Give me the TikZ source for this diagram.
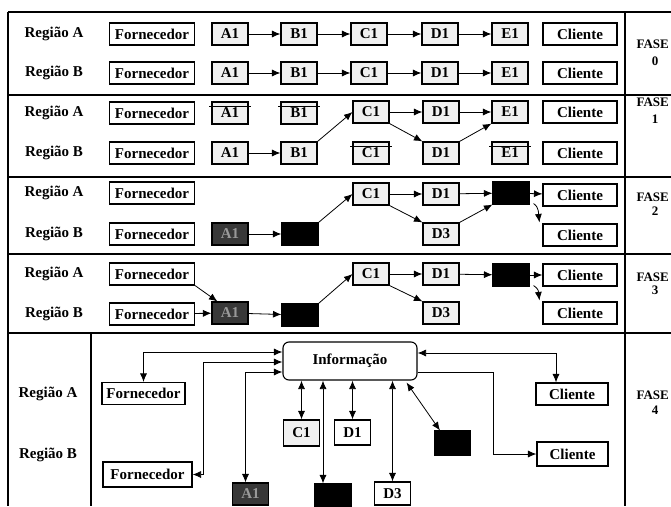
\documentclass[tikz,border=0pt]{standalone}
\usepackage{fontspec}
\setmainfont{Liberation Serif}
\usetikzlibrary{arrows.meta,calc}
\begin{document}
\begin{tikzpicture}[x=1pt,y=-1pt,
  box/.style={draw,line width=1.1pt,minimum height=22pt,inner sep=0pt,font=\fontsize{15}{15}\selectfont\bfseries},
  forn/.style={box,minimum width=85pt},
  cli/.style={box,minimum width=74pt},
  lbox/.style={box,minimum width=36pt,fill=black!6},
  dbox/.style={box,minimum width=36pt,fill=black!78,text=black!40},
  bbox/.style={box,minimum width=36pt,fill=black},
  lbl/.style={font=\fontsize{15}{15}\selectfont\bfseries},
  fase/.style={font=\fontsize{13}{13}\selectfont\bfseries,anchor=west},
  num/.style={font=\fontsize{13}{13}\selectfont\bfseries},
  arr/.style={-{Latex[length=8.5pt,width=7pt]},line width=0.8pt},
  dbl/.style={{Latex[length=8.5pt,width=7pt]}-{Latex[length=8.5pt,width=7pt]},line width=0.8pt},
  frame/.style={line width=1.2pt},
  strike/.style={line width=0.9pt},
]
\useasboundingbox (0,0) rectangle (671,506);
\fill[white] (0,0) rectangle (671,506);
% frame
\draw[frame] (8,12) -- (671,12);
\draw[frame] (8,12) -- (8,506);
\draw[frame] (625,12) -- (625,506);
\draw[frame] (8,95) -- (671,95);
\draw[frame] (8,177) -- (671,177);
\draw[frame] (8,254) -- (671,254);
\draw[frame] (8,333) -- (671,333);
\draw[frame] (91,333) -- (91,506);

% FASE labels
\node[fase] (f0) at (633,44) {FASE};
\node[num] (n0) at (655,61) {0};
\node[fase] (f1) at (633,102) {FASE};
\node[num] (n1) at (655,119) {1};
\node[fase] (f2) at (633,197) {FASE};
\node[num] (n2) at (655,211) {2};
\node[fase] (f3) at (633,277) {FASE};
\node[num] (n3) at (655,290) {3};
\node[fase] (f4) at (633,395) {FASE};
\node[num] (n4) at (655,410) {4};

% ===== Phase 0 =====
\node[lbl] (l0a) at (54,34) {Região A};
\node[lbl] (l0b) at (54,73) {Região B};
\node[forn] (fo0a) at (152,34) {Fornecedor};
\node[lbox] (a0a) at (230,34) {A1};
\node[lbox] (b0a) at (299,34) {B1};
\node[lbox] (c0a) at (369,34) {C1};
\node[lbox] (d0a) at (440,34) {D1};
\node[lbox] (e0a) at (510,34) {E1};
\node[cli] (k0a) at (580,34) {Cliente};
\node[forn] (fo0b) at (152,73) {Fornecedor};
\node[lbox] (a0b) at (230,73) {A1};
\node[lbox] (b0b) at (299,73) {B1};
\node[lbox] (c0b) at (369,73) {C1};
\node[lbox] (d0b) at (440,73) {D1};
\node[lbox] (e0b) at (510,73) {E1};
\node[cli] (k0b) at (580,73) {Cliente};
\draw[arr] (a0a) -- (b0a);
\draw[arr] (b0a) -- (c0a);
\draw[arr] (c0a) -- (d0a);
\draw[arr] (d0a) -- (e0a);
\draw[arr] (a0b) -- (b0b);
\draw[arr] (b0b) -- (c0b);
\draw[arr] (c0b) -- (d0b);
\draw[arr] (d0b) -- (e0b);

% ===== Phase 1 =====
\node[lbl] (l1a) at (54,113) {Região A};
\node[lbl] (l1b) at (54,153) {Região B};
\node[forn] (fo1a) at (152,113) {Fornecedor};
\node[lbox] (a1a) at (230,113) {A1};
\node[lbox] (b1a) at (299,113) {B1};
\node[lbox] (c1a) at (371,112) {C1};
\node[lbox] (d1a) at (441,112) {D1};
\node[lbox] (e1a) at (510,112) {E1};
\node[cli] (k1a) at (580,112) {Cliente};
\node[forn] (fo1b) at (152,153) {Fornecedor};
\node[lbox] (a1b) at (230,153) {A1};
\node[lbox] (b1b) at (299,153) {B1};
\node[lbox] (c1b) at (371,153) {C1};
\node[lbox] (d1b) at (441,153) {D1};
\node[lbox] (e1b) at (510,153) {E1};
\node[cli] (k1b) at (580,153) {Cliente};
\draw[strike] ([xshift=-2pt,yshift=-5pt]a1a.north west) -- ([xshift=2pt,yshift=-5pt]a1a.north east);
\draw[strike] ([xshift=-2pt,yshift=-5pt]b1a.north west) -- ([xshift=2pt,yshift=-5pt]b1a.north east);
\draw[strike] ([xshift=-2pt,yshift=-5pt]c1b.north west) -- ([xshift=2pt,yshift=-5pt]c1b.north east);
\draw[strike] ([xshift=-2pt,yshift=-5pt]e1b.north west) -- ([xshift=2pt,yshift=-5pt]e1b.north east);
\draw[arr] (a1b) -- (b1b);
\draw[arr] (b1b.north east) -- (c1a.west);
\draw[arr] (c1a) -- (d1a);
\draw[arr] (d1a) -- (e1a);
\draw[arr] (c1a.south east) -- (d1b.north west);
\draw[arr] (d1b.north east) -- (e1a.south west);

% ===== Phase 2 =====
\node[lbl] (l2a) at (54,193) {Região A};
\node[lbl] (l2b) at (54,234) {Região B};
\node[forn] (fo2a) at (152,193) {Fornecedor};
\node[forn] (fo2b) at (152,234) {Fornecedor};
\node[dbox] (a2b) at (230,234) {A1};
\node[bbox] (b2b) at (300,234) {};
\node[lbox] (c2a) at (371,194) {C1};
\node[lbox] (d2a) at (441,194) {D1};
\node[bbox] (e2a) at (511,193) {};
\node[cli] (k2a) at (580,195) {Cliente};
\node[lbox] (d2b) at (441,234) {D3};
\node[cli] (k2b) at (580,235) {Cliente};
\draw[arr] (a2b) -- (b2b);
\draw[arr] (b2b.north east) -- (c2a.west);
\draw[arr] (c2a) -- (d2a);
\draw[arr] (c2a.south east) -- (d2b.north west);
\draw[arr] (d2a) -- (e2a);
\draw[arr] (d2b.north east) -- (e2a.south west);
\draw[arr] (e2a) -- (k2a);
\draw[arr] ($(e2a.south east)+(4,-1)$) .. controls ($(e2a.south east)+(10,3)$) and ($(k2b.north west)+(-4,-9)$) .. ($(k2b.north west)+(-3,-1)$);

% ===== Phase 3 =====
\node[lbl] (l3a) at (54,274) {Região A};
\node[lbl] (l3b) at (54,314) {Região B};
\node[forn] (fo3a) at (152,274) {Fornecedor};
\node[forn] (fo3b) at (152,314) {Fornecedor};
\node[dbox] (a3b) at (230,313) {A1};
\node[bbox] (b3b) at (300,315) {};
\node[lbox] (c3a) at (371,274) {C1};
\node[lbox] (d3a) at (441,274) {D1};
\node[bbox] (e3a) at (511,275) {};
\node[cli] (k3a) at (580,275) {Cliente};
\node[lbox] (d3b) at (441,313) {D3};
\node[cli] (k3b) at (580,313) {Cliente};
\draw[arr] (fo3a.south east) -- ($(a3b.north west)+(6,0)$);
\draw[arr] (fo3b) -- (a3b);
\draw[arr] (a3b) -- (b3b);
\draw[arr] (b3b.north east) -- (c3a.west);
\draw[arr] (c3a) -- (d3a);
\draw[arr] (c3a.south east) -- (d3b.north west);
\draw[arr] (d3a) -- (e3a);
\draw[arr] (e3a) -- (k3a);
\draw[arr] ($(e3a.south east)+(4,-1)$) .. controls ($(e3a.south east)+(10,3)$) and ($(k3b.north west)+(-4,-9)$) .. ($(k3b.north west)+(-3,-1)$);

% ===== Phase 4 =====
\node[lbl] (l4a) at (48,394) {Região A};
\node[lbl] (l4b) at (48,455) {Região B};
\node[box,minimum width=134pt,minimum height=38pt,rounded corners=6pt] (info) at (350,361) {Informação};
\node[forn,minimum width=83pt] (fo4a) at (143.5,393.5) {Fornecedor};
\node[forn,minimum width=89pt,minimum height=25pt] (fo4b) at (147.5,474.5) {Fornecedor};
\node[dbox] (a4) at (250.5,494) {A1};
\node[bbox] (b4) at (333,495) {};
\node[lbox,minimum height=26pt] (c4) at (301.5,433) {C1};
\node[box,minimum width=36pt,minimum height=25pt] (d4) at (352.5,432.5) {D1};
\node[box,minimum width=36pt,minimum height=23pt] (d34) at (392.5,493.5) {D3};
\node[bbox,minimum height=24pt] (e4) at (452.5,443) {};
\node[cli,minimum width=72pt] (k4a) at (572,394) {Cliente};
\node[cli,minimum width=71pt,minimum height=24pt] (k4b) at (572.5,454) {Cliente};
\coordinate (b4top) at ($(b4.north)+(-10,0)$);
\coordinate (a4top) at ($(a4.north)+(-5,0)$);
\coordinate (k4atop) at ($(k4a.north)+(-16,0)$);
\coordinate (fbturn) at ($(fo4b.east)+(11,0)$);
\coordinate (kbturn) at ($(k4b.west)+(-43,0)$);
\draw[dbl] (info.west |- 0,352) -| (fo4a.north);
\draw[dbl] (info.west |- 0,362) -| (fbturn) -- (fo4b.east);
\draw[dbl] (info.west |- 0,372) -| (a4top);
\draw[dbl] (c4.north) -- (c4.north |- info.south);
\draw[dbl] (d4.north) -- (d4.north |- info.south);
\draw[dbl] (b4top) -- (b4top |- info.south);
\draw[dbl] (d34.north) -- (d34.north |- info.south);
\draw[dbl] ($(info.south east)+(-11,2)$) -- ($(e4.north west)+(6,0)$);
\draw[dbl] (info.east |- 0,353) -| (k4atop);
\draw[arr] (info.east |- 0,372) -| (kbturn) -- (k4b.west);
\end{tikzpicture}
\end{document}
